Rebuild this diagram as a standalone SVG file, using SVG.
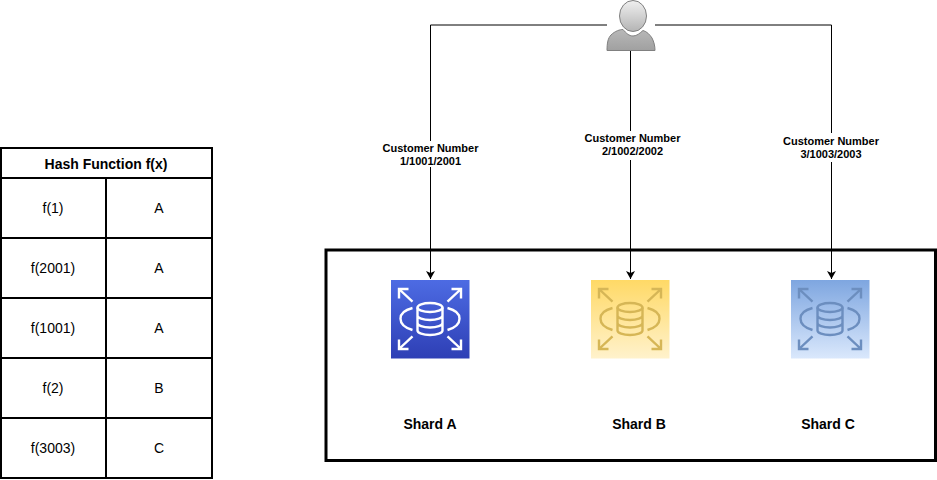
<svg xmlns="http://www.w3.org/2000/svg" width="937" height="480" viewBox="0 0 937 480">
<style>
text{font-family:"Liberation Sans",Arial,Helvetica,sans-serif;fill:#000;text-anchor:middle}
.cell{font-size:14px}
.b{font-weight:bold;font-size:14px}
.lab{font-weight:bold;font-size:11px}
.box{fill:#fff;stroke:#000;stroke-width:2}
.line{fill:none;stroke:#000;stroke-width:1}
.glyph{fill:none;stroke-width:2.4}
</style>
<defs>
<marker id="arrow" markerUnits="userSpaceOnUse" markerWidth="10" markerHeight="10" refX="8" refY="4.5" orient="auto"><path d="M0 0L8 4.500L0 9L2 4.500Z" fill="#000"/></marker>
<linearGradient id="gA" x1="0" y1="1" x2="0" y2="0"><stop offset="0" stop-color="#2E3FB5"/><stop offset="1" stop-color="#4D6BE3"/></linearGradient>
<linearGradient id="gB" x1="0" y1="1" x2="0" y2="0"><stop offset="0" stop-color="#FFF2CC"/><stop offset="1" stop-color="#FFD966"/></linearGradient>
<linearGradient id="gC" x1="0" y1="1" x2="0" y2="0"><stop offset="0" stop-color="#DAE8FC"/><stop offset="1" stop-color="#7EA6E0"/></linearGradient>
<linearGradient id="gU" x1="0" y1="0" x2="0" y2="1"><stop offset="0" stop-color="#F0F0F0"/><stop offset="1" stop-color="#B4B4B4"/></linearGradient>
<linearGradient id="gV" x1="0" y1="0" x2="0" y2="1"><stop offset="0" stop-color="#B8B8B8"/><stop offset="1" stop-color="#A0A0A0"/></linearGradient>
<g id="rds" class="glyph">
<path d="M8 9L21.500 21.700M8 18.500V9H17.500M70 9L56.500 21.700M70 18.500V9H60.500M8 69L21.500 56.300M8 59.500V69H17.500M70 69L56.500 56.300M70 59.500V69H60.500"/>
<path d="M21.500 28C5.500 32 5.500 45 21.500 50M56.500 28C72.500 32 72.500 45 56.500 50"/>
<ellipse cx="39" cy="27.500" rx="12.500" ry="4.500"/>
<path d="M26.500 27.500V50.500C26.500 53 32 55 39 55S51.500 53 51.500 50.500V27.500M26.500 35.500C26.500 38 32 40 39 40S51.500 38 51.500 35.500M26.500 43C26.500 45.500 32 47.500 39 47.500S51.500 45.500 51.500 43"/>
</g>
</defs>

<g id="hash-table">
<rect class="box" x="1" y="148" width="211" height="30"/>
<rect class="box" x="1" y="178" width="106" height="60"/><rect class="box" x="106" y="178" width="106" height="60"/>
<rect class="box" x="1" y="238" width="106" height="60"/><rect class="box" x="106" y="238" width="106" height="60"/>
<rect class="box" x="1" y="298" width="106" height="60"/><rect class="box" x="106" y="298" width="106" height="60"/>
<rect class="box" x="1" y="358" width="106" height="60"/><rect class="box" x="106" y="358" width="106" height="60"/>
<rect class="box" x="1" y="418" width="106" height="60"/><rect class="box" x="106" y="418" width="106" height="60"/>
<text class="b" x="106" y="169">Hash Function f(x)</text>
<text class="cell" x="53" y="213">f(1)</text><text class="cell" x="159" y="213">A</text>
<text class="cell" x="53" y="273">f(2001)</text><text class="cell" x="159" y="273">A</text>
<text class="cell" x="53" y="333">f(1001)</text><text class="cell" x="159" y="333">A</text>
<text class="cell" x="53" y="393">f(2)</text><text class="cell" x="159" y="393">B</text>
<text class="cell" x="53" y="453">f(3003)</text><text class="cell" x="159" y="453">C</text>
</g>

<g id="shard-container"><rect x="326" y="250" width="609.500" height="210.500" fill="none" stroke="#000" stroke-width="3"/></g>

<g id="connectors">
<path class="line" marker-end="url(#arrow)" d="M607 25H430.500V279"/>
<path class="line" marker-end="url(#arrow)" d="M630.500 50V279"/>
<path class="line" marker-end="url(#arrow)" d="M655 25H831.500V279"/>
<rect x="380" y="141" width="101" height="26" fill="#fff"/>
<rect x="580" y="131" width="101" height="29" fill="#fff"/>
<rect x="779" y="133" width="104" height="29" fill="#fff"/>
<text class="lab" x="430.500" y="152">Customer Number</text><text class="lab" x="430.500" y="165">1/1001/2001</text>
<text class="lab" x="632.500" y="142">Customer Number</text><text class="lab" x="632.500" y="155">2/1002/2002</text>
<text class="lab" x="831" y="145">Customer Number</text><text class="lab" x="831" y="158">3/1003/2003</text>
</g>

<g id="user">
<ellipse cx="633" cy="16" rx="13.500" ry="15.500" fill="url(#gU)" stroke="#808080"/>
<path d="M607 50.500C607 43 608 38 611 35C615 31 620 29.500 623 29.500C626 33 629 36 633 36C637 36 640 33 643 30.500C647 31.500 650 35 652 38C654 42 655 46 655 50.500Z" fill="url(#gV)" stroke="#808080"/>
</g>

<g id="shard-a">
<rect x="391" y="280" width="78.500" height="78.500" fill="url(#gA)"/>
<use href="#rds" x="391" y="280" stroke="#fff"/>
<text class="b" x="430" y="429">Shard A</text>
</g>
<g id="shard-b">
<rect x="591" y="280" width="78.500" height="78.500" fill="url(#gB)"/>
<use href="#rds" x="591" y="280" stroke="#D6B656"/>
<text class="b" x="639" y="429">Shard B</text>
</g>
<g id="shard-c">
<rect x="791" y="280" width="78.500" height="78.500" fill="url(#gC)"/>
<use href="#rds" x="791" y="280" stroke="#6C8EBF"/>
<text class="b" x="828" y="429">Shard C</text>
</g>
</svg>
